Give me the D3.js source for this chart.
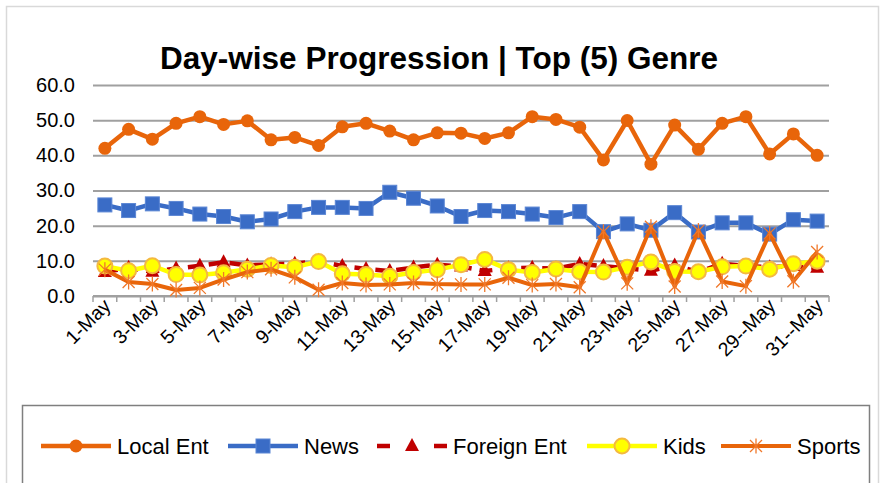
<!DOCTYPE html>
<html>
<head>
<meta charset="utf-8">
<script src="https://cdn.jsdelivr.net/npm/d3@7"></script>
<style>
  body { margin: 0; background: #fff; }
  svg { display: block; font-family: "Liberation Sans", Arial, sans-serif; }
</style>
</head>
<body>
<div id="chart"></div>
<script>
// day labels (one per category)
const days = d3.range(1, 32).map(d => d + '-May')
// tick labels as they appear on the axis (odd days only)
const tickLabels = { '1-May': '1-May', '3-May': '3-May', '5-May': '5-May', '7-May': '7-May', '9-May': '9-May',
  '11-May': '11-May', '13-May': '13-May', '15-May': '15-May', '17-May': '17-May', '19-May': '19-May',
  '21-May': '21-May', '23-May': '23-May', '25-May': '25-May', '27-May': '27-May', '29-May': '29--May', '31-May': '31--May' }
const yTicks = [0, 10, 20, 30, 40, 50, 60]

const localEnt = [42.0,47.4,44.6,49.1,51.0,48.8,49.8,44.4,45.1,42.8,48.1,49.1,46.9,44.4,46.4,46.3,44.8,46.4,51.0,50.2,48.0,38.7,49.9,37.5,48.6,41.7,49.1,51.0,40.4,46.1,40.0]
const news = [25.9,24.3,26.2,24.9,23.3,22.6,21.1,21.9,24.0,25.2,25.2,24.9,29.5,27.8,25.6,22.6,24.3,24.0,23.3,22.3,24.0,18.3,20.5,18.7,23.7,18.2,20.8,20.8,17.6,21.7,21.3]
const foreignEnt = [6.8,8.0,6.9,7.8,8.6,9.6,8.7,9.0,9.2,10.0,8.5,7.7,7.1,8.1,8.9,8.4,7.1,7.9,8.0,7.8,9.1,8.5,7.9,7.2,8.7,6.8,9.2,8.5,8.2,8.5,8.0]
const kids = [8.5,7.2,8.6,6.1,6.0,6.6,7.6,8.7,8.2,9.8,6.3,6.1,5.6,6.7,7.5,8.9,10.4,7.5,6.7,7.7,6.9,6.8,8.2,9.7,7.0,6.9,8.3,8.5,7.6,9.2,9.9]
const sports = [7.5,4.0,3.4,1.7,2.3,4.7,6.8,7.6,5.3,1.8,3.7,3.1,3.3,3.7,3.4,3.3,3.3,5.2,3.1,3.4,2.5,18.3,3.6,19.7,2.7,18.6,4.1,2.8,17.8,4.2,12.5]

const series = [
  { name: 'Local Ent', values: localEnt, color: '#E8650A', width: 4.5, marker: 'circle' },
  { name: 'News', values: news, color: '#3A6CC6', width: 4.5, marker: 'square' },
  { name: 'Foreign Ent', values: foreignEnt, color: '#C00000', width: 4.5, marker: 'triangle', dash: '13,8' },
  { name: 'Kids', values: kids, color: '#FFFF00', width: 4.5, marker: 'kids' },
  { name: 'Sports', values: sports, color: '#E8650A', width: 4, marker: 'star' }
]

const width = 881
const height = 483
const plot = { left: 93, right: 829, top: 85, bottom: 296 }

const svg = d3.select('#chart').append('svg')
  .attr('width', width)
  .attr('height', height)

// outer chart border
svg.append('rect')
  .attr('x', 6.5).attr('y', 6.5)
  .attr('width', 872).attr('height', 500)
  .attr('fill', 'none')
  .attr('stroke', '#d9d9d9')
  .attr('stroke-width', 1.5)

svg.append('text')
  .attr('x', 439)
  .attr('y', 69)
  .attr('text-anchor', 'middle')
  .attr('font-size', 31.5)
  .attr('font-weight', 'bold')
  .attr('fill', '#000')
  .text('Day-wise Progression | Top (5) Genre')

let x = d3.scaleBand()
  .domain(days)
  .range([plot.left, plot.right])
  .paddingInner(0)

let y = d3.scaleLinear()
  .domain([0, 60])
  .range([plot.bottom, plot.top])

const cx = d => x(d) + x.bandwidth() / 2

// y axis with gridlines
let yAxis = svg.append('g')
  .attr('transform', 'translate(' + plot.left + ',0)')
  .call(d3.axisLeft(y)
    .tickValues(yTicks)
    .tickFormat(d3.format('.1f'))
    .tickSize(-(plot.right - plot.left))
    .tickPadding(18))

yAxis.select('.domain').remove()
yAxis.selectAll('line')
  .attr('stroke', '#a0a0a0')
  .attr('stroke-width', 2)
yAxis.selectAll('text')
  .attr('font-size', 20)
  .attr('fill', '#000')
  .attr('font-family', '"Liberation Sans", Arial, sans-serif')

// x axis: ticks between categories
let boundaries = days.map(d => x(d)).concat([plot.right])
let xAxis = svg.append('g')
xAxis.append('line')
  .attr('x1', plot.left).attr('x2', plot.right)
  .attr('y1', y(0)).attr('y2', y(0))
  .attr('stroke', '#a0a0a0')
  .attr('stroke-width', 2)
xAxis.selectAll('.tick')
  .data(boundaries)
  .enter()
  .append('line')
  .attr('x1', d => d).attr('x2', d => d)
  .attr('y1', y(0)).attr('y2', y(0) + 6)
  .attr('stroke', '#a0a0a0')
  .attr('stroke-width', 1.5)

xAxis.selectAll('.xlabel')
  .data(days.filter(d => tickLabels[d]))
  .enter()
  .append('text')
  .attr('class', 'xlabel')
  .attr('transform', d => 'translate(' + (cx(d) + 7) + ',' + (y(0) + 11) + ') rotate(-45)')
  .attr('text-anchor', 'end')
  .attr('font-size', 19.5)
  .attr('fill', '#000')
  .text(d => tickLabels[d])

// lines and markers
let line = d3.line()
  .x((v, i) => cx(days[i]))
  .y(v => y(v))

function drawMarker(g, type, color) {
  if (type === 'circle') {
    g.append('circle').attr('r', 6.5).attr('fill', color)
  } else if (type === 'square') {
    g.append('rect').attr('x', -7).attr('y', -7).attr('width', 14).attr('height', 14)
      .attr('fill', color).attr('stroke', '#5b86d4').attr('stroke-width', 1)
  } else if (type === 'triangle') {
    g.append('path').attr('d', 'M0,-8 L7,5 L-7,5 Z').attr('fill', color)
  } else if (type === 'kids') {
    g.append('circle').attr('r', 7.5).attr('fill', '#FFFF00')
      .attr('stroke', '#F4B940').attr('stroke-width', 2)
  } else if (type === 'star') {
    const r = 7.5
    g.append('path')
      .attr('d', 'M0,' + (-r) + 'L0,' + r +
        'M' + (-r * 0.8) + ',' + (-r * 0.8) + 'L' + (r * 0.8) + ',' + (r * 0.8) +
        'M' + (r * 0.8) + ',' + (-r * 0.8) + 'L' + (-r * 0.8) + ',' + (r * 0.8))
      .attr('stroke', '#F0782A').attr('stroke-width', 1.3).attr('fill', 'none')
  }
}

let seriesG = svg.append('g')
series.forEach(s => {
  let g = seriesG.append('g')
  g.append('path')
    .datum(s.values)
    .attr('d', line)
    .attr('fill', 'none')
    .attr('stroke', s.color)
    .attr('stroke-width', s.width)
    .attr('stroke-linejoin', 'round')
    .attr('stroke-dasharray', s.dash || null)

  s.values.forEach((v, i) => {
    let m = g.append('g').attr('transform', 'translate(' + cx(days[i]) + ',' + y(v) + ')')
    drawMarker(m, s.marker, s.color)
  })
})

// legend
svg.append('rect')
  .attr('x', 22.5).attr('y', 405.5)
  .attr('width', 847).attr('height', 100)
  .attr('fill', 'none')
  .attr('stroke', '#7f7f7f')
  .attr('stroke-width', 1.5)

const legendX = [41, 228, 377, 587, 721]
const legendY = 446
series.forEach((s, i) => {
  let g = svg.append('g').attr('transform', 'translate(' + legendX[i] + ',' + legendY + ')')
  g.append('line')
    .attr('x1', 0).attr('x2', 70)
    .attr('y1', 0).attr('y2', 0)
    .attr('stroke', s.color)
    .attr('stroke-width', s.width)
    .attr('stroke-dasharray', s.dash ? '13,44,13' : null)
  let m = g.append('g').attr('transform', 'translate(35,0)')
  drawMarker(m, s.marker, s.color)
  g.append('text')
    .attr('x', 76)
    .attr('y', 8)
    .attr('font-size', 22)
    .attr('fill', '#000')
    .text(s.name)
})
</script>
</body>
</html>
